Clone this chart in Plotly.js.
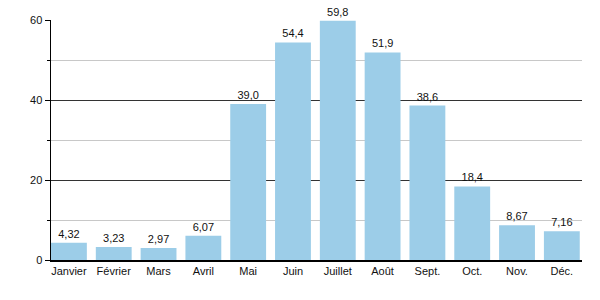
<!DOCTYPE html>
<html><head><meta charset="utf-8">
<script src="https://cdn.plot.ly/plotly-3.0.1.min.js"></script>
<style>html,body{margin:0;padding:0;background:#fff}#c{width:600px;height:300px}</style>
</head><body><div id="c"></div>
<script>
const months = ["Janvier","Février","Mars","Avril","Mai","Juin","Juillet","Août","Sept.","Oct.","Nov.","Déc."];
const values = [4.32,3.23,2.97,6.07,39.0,54.4,59.8,51.9,38.6,18.4,8.67,7.16];
const labels = ["4,32","3,23","2,97","6,07","39,0","54,4","59,8","51,9","38,6","18,4","8,67","7,16"];
const yTicks = [0,20,40,60];

Plotly.newPlot('c',[{
  type:'bar', x:months, y:values, text:labels, textposition:'outside',
  textfont:{family:'Liberation Sans, Arial, sans-serif', size:11, color:'#111'},
  marker:{color:'#9ccde8'}, width:0.8, cliponaxis:false, hoverinfo:'none'
}],{
  width:600, height:300, margin:{l:51,r:18,t:20,b:40},
  paper_bgcolor:'#fff', plot_bgcolor:'#fff', showlegend:false,
  font:{family:'Liberation Sans, Arial, sans-serif', size:11, color:'#111'},
  xaxis:{type:'category', range:[-0.4,11.45], showline:true, linecolor:'#000', linewidth:1.5, ticks:'', showgrid:false, tickfont:{size:11}},
  yaxis:{range:[0,60], tickvals:yTicks, ticktext:yTicks.map(String), showline:true, linecolor:'#000', linewidth:1.5,
    ticks:'outside', ticklen:5, tickcolor:'#000', showgrid:true, gridcolor:'#333', gridwidth:1, zeroline:false,
    minor:{dtick:10, tick0:0, ticks:'outside', ticklen:3, tickcolor:'#000', showgrid:true, gridcolor:'#c8c8c8', gridwidth:1},
    tickfont:{size:11}}
},{staticPlot:true, displayModeBar:false});
</script></body></html>
